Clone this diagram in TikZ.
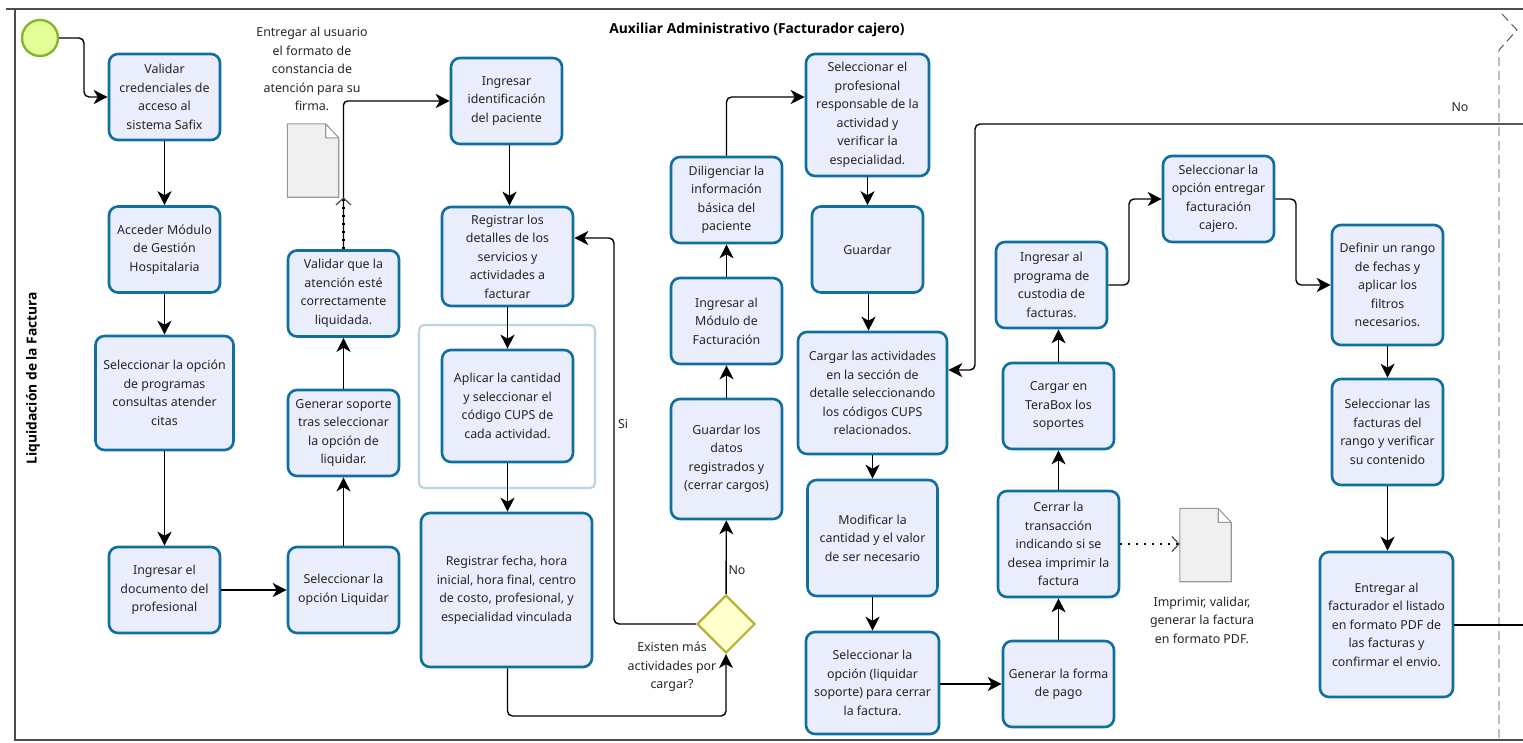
\documentclass[tikz,border=0pt]{standalone}
\usepackage{fontspec}
\setmainfont{Noto Sans}
\newfontfamily\lanefont{Open Sans}
\usetikzlibrary{shapes,arrows,arrows.meta}
\definecolor{taskblue}{HTML}{0F6F9F}
\definecolor{taskfill}{HTML}{E9EDFC}
\definecolor{startfill}{HTML}{E4FF97}
\definecolor{startline}{HTML}{86B52F}
\definecolor{groupline}{HTML}{B9D5E0}
\definecolor{gateline}{HTML}{B4B437}
\definecolor{gatefill}{HTML}{FFFFCC}

\begin{document}
\begin{tikzpicture}[->,>={Stealth[length=14pt,width=14pt,inset=4pt]},x=1pt,y=-1pt,line width=1.4pt,
  every node/.style={font=\fontsize{12.4}{18.5}\selectfont,text=black!85,align=center}]
\tikzstyle{task}=[-,draw=taskblue,fill=taskfill,line width=2.6pt,rounded corners=9pt,inner sep=0pt,minimum width=111pt,minimum height=86pt]
\tikzstyle{docnode}=[-,inner sep=0pt,minimum width=50pt,minimum height=72pt]
\tikzstyle{lane}=[-,black!70,line width=1.4pt]
\tikzstyle{heading}=[font=\lanefont\fontsize{13.8}{16}\bfseries\selectfont,text=black]
\tikzstyle{assoc}=[line width=2.2pt,dash pattern=on 2pt off 6pt,-{Straight Barb[length=7pt,width=15pt,line width=1.2pt,black!70]}]
\useasboundingbox (0,0) rectangle (1523,742);

% lane frame
\coordinate (topL) at (6,9);
\coordinate (topR) at (1523,9);
\coordinate (botL) at (15,740);
\coordinate (botR) at (1523,740);
\coordinate (sideT) at (15,9);
\draw[lane] (topL)--(topR) (sideT)--(botL)--(botR);
\coordinate (phaseT) at (1502,14);
\coordinate (phaseM) at (1517,30);
\coordinate (phaseB) at (1499,50);
\coordinate (phaseE) at (1499,740);
\draw[-,black!70,line width=0.9pt,dash pattern=on 9pt off 5pt] (phaseT)--(phaseM)--(phaseB)--(phaseE);
\node[heading] (title) at (757,30) {Auxiliar Administrativo (Facturador cajero)};
\node[heading,rotate=90] (laneName) at (33,378) {Liquidación de la Factura};

% start and group
\node[-,circle,draw=startline,fill=startfill,line width=2.4pt,minimum size=36pt,inner sep=0pt] (start) at (40,38) {};
\node[-,draw=groupline,line width=2.2pt,rounded corners=5pt,minimum width=176pt,minimum height=163pt] (group) at (507,406.5) {};

% first columns
\node[task] (validar) at (164.5,97) {Validar\\credenciales de\\acceso al\\sistema Safix};
\node[task] (acceder) at (164.5,249.5) {Acceder Módulo\\de Gestión\\Hospitalaria};
\node[task,minimum width=138pt,minimum height=114pt] (programas) at (164.5,393) {Seleccionar la opción\\de programas\\consultas atender\\citas};
\node[task] (documento) at (164.5,590) {Ingresar el\\documento del\\profesional};
\node[task] (liquidar) at (343.5,590) {Seleccionar la\\opción Liquidar};
\node[task] (soporte) at (343.5,433) {Generar soporte\\tras seleccionar\\la opción de\\liquidar.};
\node[task] (atencion) at (343.5,293.5) {Validar que la\\atención esté\\correctamente\\liquidada.};
\node[docnode] (docA) at (313,160.5) {};
\node (entregar) at (312,69) {Entregar al usuario\\el formato de\\constancia de\\atención para su\\firma.};

% second column
\node[task] (paciente) at (506.5,101) {Ingresar\\identificación\\del paciente};
\node[task,minimum width=131pt,minimum height=99pt] (detalles) at (507.5,256.5) {Registrar los\\detalles de los\\servicios y\\actividades a\\facturar};
\node[task,minimum width=131pt,minimum height=112pt] (aplicar) at (507.5,406) {Aplicar la cantidad\\y seleccionar el\\código CUPS de\\cada actividad.};
\node[task,minimum width=171pt,minimum height=154pt] (fecha) at (506.5,590) {Registrar fecha, hora\\inicial, hora final, centro\\de costo, profesional, y\\especialidad vinculada};
\node[-,diamond,draw=gateline,fill=gatefill,line width=2.2pt,minimum size=58pt,inner sep=0pt] (masact) at (726,624) {};
\node (masText) at (672,667) {Existen más\\actividades por\\cargar?};

% third column
\node[task,minimum height=120pt] (guardarD) at (726.5,459) {Guardar los\\datos\\registrados y\\(cerrar cargos)};
\node[task] (modulo) at (726.5,321) {Ingresar al\\Módulo de\\Facturación};
\node[task] (basica) at (726.5,200) {Diligenciar la\\información\\básica del\\paciente};
\node[task,minimum width=123pt,minimum height=122pt] (profesional) at (867.5,115) {Seleccionar el\\profesional\\responsable de la\\actividad y\\verificar la\\especialidad.};
\node[task] (guardar) at (867.5,249.5) {Guardar};
\node[task,minimum width=149pt,minimum height=122pt] (cargar) at (872.5,393) {Cargar las actividades\\en la sección de\\detalle seleccionando\\los códigos CUPS\\relacionados.};
\node[task,minimum width=130pt,minimum height=116pt] (modificar) at (872.5,538) {Modificar la\\cantidad y el valor\\de ser necesario};
\node[task,minimum width=133pt,minimum height=102pt] (cierre) at (872.5,683) {Seleccionar la\\opción (liquidar\\soporte) para cerrar\\la factura.};

% fourth column
\node[task] (pago) at (1058.5,684) {Generar la forma\\de pago};
\node[task,minimum width=121pt,minimum height=106pt] (transaccion) at (1058.5,544) {Cerrar la\\transacción\\indicando si se\\desea imprimir la\\factura};
\node[task] (terabox) at (1058.5,406) {Cargar en\\TeraBox los\\soportes};
\node[task] (custodia) at (1051.5,285) {Ingresar al\\programa de\\custodia de\\facturas.};
\node[docnode] (docB) at (1205.5,545) {};
\node (imprimir) at (1202,620) {Imprimir, validar,\\generar la factura\\en formato PDF.};
\node[task] (cajero) at (1218.5,199) {Seleccionar la\\opción entregar\\facturación\\cajero.};
\node (noTop) at (1460,107) {No};
\node (siLab) at (623,424) {Si};
\node (noLab) at (737,570) {No};

% last column
\node[task,minimum height=120pt] (rango) at (1387.5,285) {Definir un rango\\de fechas y\\aplicar los\\filtros\\necesarios.};
\node[task,minimum height=106pt] (rangoF) at (1387.5,432) {Seleccionar las\\facturas del\\rango y verificar\\su contenido};
\node[task,minimum width=133pt,minimum height=145pt] (listado) at (1386.5,624.5) {Entregar al\\facturador el listado\\en formato PDF de\\las facturas y\\confirmar el envio.};

% page documents
\foreach \d in {docA,docB}
  \draw[-,draw=black!40,fill=black!6,line width=1.1pt]
    (\d.north west) -- ([xshift=-13pt]\d.north east) -- ([yshift=-14pt]\d.north east)
    -- (\d.south east) -- (\d.south west) -- cycle
    ([xshift=-13pt]\d.north east) -- ([xshift=-13pt,yshift=-14pt]\d.north east) -- ([yshift=-14pt]\d.north east);

% free ends
\coordinate (noEnd) at (1523,124);
\coordinate (outEnd) at (1523,625);

\draw[rounded corners=5pt] (start.east) -| (84,70) |- (validar.west);
\path (validar) edge (acceder)
      (acceder) edge (programas)
      (programas) edge (documento)
      (documento) edge (liquidar)
      (liquidar) edge (soporte)
      (soporte) edge (atencion)
      ([xshift=3pt]paciente.south) edge ([xshift=3pt]paciente.south |- detalles.north)
      (detalles) edge (aplicar)
      (aplicar) edge (aplicar |- fecha.north)
      (masact) edge (guardarD)
      (guardarD) edge (modulo)
      (modulo) edge (basica)
      (profesional) edge (guardar)
      ([xshift=1pt]guardar.south) edge ([xshift=1pt]guardar.south |- cargar.north)
      (cargar) edge (modificar)
      (modificar) edge (cierre)
      (cierre.east |- pago) edge (pago)
      (pago) edge (transaccion)
      (transaccion) edge (terabox)
      (terabox.north) edge (terabox.north |- custodia.south)
      (rango) edge (rangoF)
      (rangoF.south) edge (rangoF.south |- listado.north);
\draw[rounded corners=4pt] (atencion.north) |- (paciente.west);
\draw[assoc] (atencion.north) -- (atencion.north |- docA.south);
\draw[assoc] (transaccion.east) -- (docB.west |- transaccion.east);
\draw[rounded corners=5pt] (aplicar |- fecha.south) |- (716,716) -| (masact.south);
\draw[rounded corners=5pt] (masact.west) -| (614,400) |- (detalles.east |- 0,238);
\draw[rounded corners=5pt] (basica.north) |- (profesional.west |- 0,97);
\draw[rounded corners=5pt] (custodia.east) -| (1129,230) |- (cajero.west);
\draw[rounded corners=5pt] (cajero.east) -| (1296,240) |- (rango.west);
\draw[<-,rounded corners=5pt] (cargar.east |- 0,370) -| (975,200) |- (noEnd);
\draw[-] (listado.east |- outEnd) -- (outEnd);
\end{tikzpicture}
\end{document}
